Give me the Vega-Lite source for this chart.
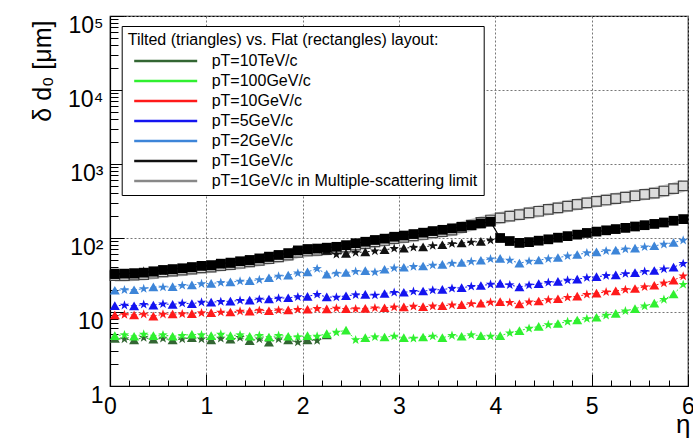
{
"$schema":"https://vega.github.io/schema/vega-lite/v6.json",
"width":578,"height":370,
"autosize":{"type":"none"},
"padding":{"left":110,"top":16,"right":5,"bottom":55},
"background":"white",
"config":{"font":"Liberation Sans","view":{"stroke":"black","strokeWidth":1.2}},
"datasets":{"d":[
{"e":0.05,"m":"a","t10":4.4,"g100":4.8,"g10":9.1,"g5":12.2,"g2":19.7,"g1":32,"f":33,"ms":31},
{"e":0.15,"m":"b","t10":4.3,"g100":4.9,"g10":9.2,"g5":12.3,"g2":19.9,"g1":32.5,"f":33,"ms":31},
{"e":0.25,"m":"a","t10":4.2,"g100":4.7,"g10":9.1,"g5":12.1,"g2":20.0,"g1":32.5,"f":33.5,"ms":31.5},
{"e":0.35,"m":"b","t10":4.5,"g100":5.0,"g10":9.3,"g5":12.6,"g2":20.6,"g1":35.5,"f":34,"ms":32},
{"e":0.45,"m":"a","t10":4.3,"g100":4.8,"g10":8.8,"g5":12.4,"g2":21.8,"g1":34.5,"f":35.5,"ms":33.4},
{"e":0.55,"m":"b","t10":4.4,"g100":4.9,"g10":9.3,"g5":12.8,"g2":21.6,"g1":36,"f":37,"ms":34.8},
{"e":0.65,"m":"a","t10":4.2,"g100":4.7,"g10":9.4,"g5":12.7,"g2":22.0,"g1":37,"f":38,"ms":35.7},
{"e":0.75,"m":"b","t10":4.3,"g100":4.8,"g10":9.4,"g5":13.1,"g2":22.8,"g1":38,"f":39,"ms":36.7},
{"e":0.85,"m":"a","t10":4.5,"g100":5.0,"g10":9.5,"g5":13.0,"g2":23.2,"g1":39.5,"f":40.5,"ms":38},
{"e":0.95,"m":"b","t10":4.3,"g100":4.9,"g10":9.7,"g5":13.5,"g2":24.0,"g1":41,"f":42,"ms":39.5},
{"e":1.05,"m":"a","t10":4.2,"g100":4.8,"g10":9.8,"g5":13.6,"g2":24.4,"g1":42,"f":43,"ms":40.4},
{"e":1.15,"m":"b","t10":4.4,"g100":5.0,"g10":9.9,"g5":13.8,"g2":24.9,"g1":44,"f":45,"ms":42.3},
{"e":1.25,"m":"a","t10":4.3,"g100":4.8,"g10":10.0,"g5":14.0,"g2":25.5,"g1":45.5,"f":46.5,"ms":43.7},
{"e":1.35,"m":"b","t10":4.5,"g100":4.9,"g10":10.2,"g5":14.3,"g2":26.0,"g1":47,"f":48.5,"ms":45.6},
{"e":1.45,"m":"a","t10":4.1,"g100":4.7,"g10":10.3,"g5":14.5,"g2":26.6,"g1":49,"f":50.5,"ms":47.5},
{"e":1.55,"m":"b","t10":4.3,"g100":4.8,"g10":10.5,"g5":14.8,"g2":27.2,"g1":51.5,"f":53,"ms":49.8},
{"e":1.65,"m":"a","t10":3.9,"g100":4.6,"g10":10.4,"g5":15.0,"g2":29.0,"g1":54.5,"f":56,"ms":52.6},
{"e":1.75,"m":"b","t10":4.3,"g100":4.8,"g10":10.6,"g5":15.3,"g2":30.3,"g1":57.5,"f":59,"ms":55.5},
{"e":1.85,"m":"a","t10":4.2,"g100":4.7,"g10":10.7,"g5":15.6,"g2":31.5,"g1":61,"f":62.5,"ms":58.8},
{"e":1.95,"m":"b","t10":3.9,"g100":4.6,"g10":10.8,"g5":16.0,"g2":33.5,"g1":66,"f":68,"ms":64},
{"e":2.05,"m":"a","t10":4.2,"g100":4.8,"g10":10.9,"g5":16.3,"g2":34.8,"g1":69,"f":71,"ms":66.7},
{"e":2.15,"m":"b","t10":4.1,"g100":4.7,"g10":11.1,"g5":17.2,"g2":38.5,"g1":70,"f":72,"ms":68},
{"e":2.25,"m":"a","t10":4.9,"g100":5.1,"g10":11.0,"g5":16.0,"g2":32.5,"g1":68,"f":74,"ms":70},
{"e":2.35,"m":"b","g100":5.3,"g10":11.2,"g5":15.8,"g2":33.2,"g1":60,"f":76,"ms":72},
{"e":2.45,"m":"a","g100":5.7,"g10":11.1,"g5":16.6,"g2":34.2,"g1":62,"f":80,"ms":75.5},
{"e":2.55,"m":"b","g100":4.2,"g10":11.0,"g5":17.0,"g2":35.2,"g1":63.5,"f":85,"ms":80},
{"e":2.65,"m":"a","g100":4.5,"g10":11.2,"g5":17.3,"g2":36.2,"g1":65,"f":89,"ms":84},
{"e":2.75,"m":"b","g100":4.6,"g10":11.3,"g5":16.8,"g2":34.5,"g1":66.5,"f":94,"ms":88.5},
{"e":2.85,"m":"a","g100":4.6,"g10":11.4,"g5":17.8,"g2":37.8,"g1":69.5,"f":98,"ms":92.5},
{"e":2.95,"m":"b","g100":4.7,"g10":11.6,"g5":18.3,"g2":39.2,"g1":72,"f":104,"ms":98},
{"e":3.05,"m":"a","g100":4.5,"g10":11.7,"g5":18.5,"g2":40.3,"g1":73,"f":108,"ms":102},
{"e":3.15,"m":"b","g100":4.4,"g10":11.9,"g5":18.9,"g2":41.0,"g1":74.5,"f":113,"ms":106.5},
{"e":3.25,"m":"a","g100":4.6,"g10":11.8,"g5":19.2,"g2":41.8,"g1":76,"f":118,"ms":111.5},
{"e":3.35,"m":"b","g100":4.7,"g10":12.0,"g5":19.7,"g2":42.8,"g1":78.5,"f":124,"ms":117},
{"e":3.45,"m":"a","g100":4.5,"g10":12.2,"g5":20.2,"g2":44.0,"g1":81,"f":129,"ms":122},
{"e":3.55,"m":"b","g100":4.8,"g10":12.4,"g5":20.8,"g2":45.3,"g1":83.5,"f":135,"ms":128},
{"e":3.65,"m":"a","g100":4.7,"g10":12.6,"g5":21.4,"g2":46.6,"g1":85.5,"f":142,"ms":138},
{"e":3.75,"m":"b","g100":4.9,"g10":12.9,"g5":22.1,"g2":48.0,"g1":87.5,"f":149,"ms":150},
{"e":3.85,"m":"a","g100":4.8,"g10":13.2,"g5":22.8,"g2":50.0,"g1":90,"f":157,"ms":163},
{"e":3.95,"m":"b","g100":4.7,"g10":13.5,"g5":23.6,"g2":52.0,"g1":93,"f":166,"ms":175},
{"e":4.05,"m":"a","g100":4.8,"g10":13.8,"g5":24.4,"g2":53.0,"g1":101,"f":100,"ms":187},
{"e":4.15,"m":"b","g100":5.2,"g10":13.4,"g5":23.2,"g2":50.0,"g1":90,"f":91,"ms":197},
{"e":4.25,"m":"a","g100":5.6,"g10":12.9,"g5":21.8,"g2":45.8,"g1":86,"f":86,"ms":207},
{"e":4.35,"m":"b","g100":6.0,"g10":13.6,"g5":23.0,"g2":48.5,"f":88,"ms":218},
{"e":4.45,"m":"a","g100":6.4,"g10":14.1,"g5":24.2,"g2":50.5,"f":92,"ms":230},
{"e":4.55,"m":"b","g100":6.7,"g10":14.6,"g5":25.0,"g2":52.3,"f":96,"ms":243},
{"e":4.65,"m":"a","g100":7.0,"g10":15.1,"g5":25.9,"g2":54.5,"f":101,"ms":256},
{"e":4.75,"m":"b","g100":7.4,"g10":15.7,"g5":26.8,"g2":57.0,"f":106,"ms":270},
{"e":4.85,"m":"a","g100":7.8,"g10":16.4,"g5":27.8,"g2":59.8,"f":111,"ms":284},
{"e":4.95,"m":"b","g100":8.1,"g10":17.2,"g5":29.0,"g2":62.8,"f":117,"ms":299},
{"e":5.05,"m":"a","g100":8.5,"g10":18.0,"g5":30.0,"g2":65.0,"f":122,"ms":313},
{"e":5.15,"m":"b","g100":9.0,"g10":18.6,"g5":30.9,"g2":66.8,"f":127,"ms":326},
{"e":5.25,"m":"a","g100":9.6,"g10":19.3,"g5":31.8,"g2":68.6,"f":132,"ms":340},
{"e":5.35,"m":"b","g100":10.3,"g10":20.0,"g5":32.8,"g2":70.5,"f":137,"ms":356},
{"e":5.45,"m":"a","g100":11.1,"g10":20.8,"g5":34.0,"g2":72.8,"f":143,"ms":372},
{"e":5.55,"m":"b","g100":12.0,"g10":21.8,"g5":35.2,"g2":75.5,"f":149,"ms":388},
{"e":5.65,"m":"a","g100":13.2,"g10":23.0,"g5":36.4,"g2":78.5,"f":155,"ms":405},
{"e":5.75,"m":"b","g100":14.7,"g10":24.5,"g5":38.0,"g2":82.0,"f":162,"ms":432},
{"e":5.85,"m":"a","g100":17.5,"g10":27.0,"g5":40.5,"g2":87.0,"f":171,"ms":465},
{"e":5.95,"m":"b","g100":23.5,"g10":30.5,"g5":45.0,"g2":93.0,"f":180,"ms":505}
]},
"data":{"name":"d"},
"resolve":{"axis":{"x":"independent","y":"independent"}},
"layer":[
{"mark":{"type":"line","color":"#c9c9c9","strokeWidth":12,"strokeCap":"butt","opacity":0.9},
 "encoding":{
  "x":{"field":"e","type":"quantitative","scale":{"domain":[0,6],"nice":false,"zero":false},
   "axis":{"values":[0,1,2,3,4,5,6],"format":"d","labelFontSize":23,"labelColor":"black","labelPadding":21,"tickSize":-12,"tickColor":"black","tickWidth":1,"domainColor":"black","domainWidth":1.2,"grid":true,"gridDash":[2,2],"gridColor":"#777","gridOpacity":1,"labelFlush":false,"title":"η","titleFontSize":26,"titleFontWeight":"normal","titleColor":"black","titleX":580,"titleY":46,"titleAlign":"right","titleBaseline":"alphabetic"}},
  "y":{"field":"ms","type":"quantitative","scale":{"type":"log","domain":[1,100000],"nice":false},
   "axis":{"values":[1,10,100,1000,10000,100000],"labelExpr":"datum.value==1?'1':datum.value==10?'10':datum.value==100?'10²':datum.value==1000?'10³':datum.value==10000?'10⁴':'10⁵'","labelFontSize":23,"labelColor":"black","labelPadding":21,"labelBaseline":"middle","labelOffset":9,"tickSize":-14,"tickColor":"black","domainColor":"black","domainWidth":1.2,"grid":true,"gridDash":[2,2],"gridColor":"#777","gridOpacity":1,"labelFlush":false,"title":"δ d₀ [μm]","titleFontSize":25,"titleFontWeight":"normal","titleColor":"black","titleX":-68,"titleY":4,"titleAlign":"right","titleBaseline":"middle","titleAngle":-90}}
 }},
{"mark":{"type":"point","opacity":0},
 "encoding":{
  "x":{"field":"e","type":"quantitative","scale":{"domain":[0,6],"nice":false,"zero":false},
   "axis":{"orient":"bottom","values":[0.2,0.4,0.6,0.8,1.2,1.4,1.6,1.8,2.2,2.4,2.6,2.8,3.2,3.4,3.6,3.8,4.2,4.4,4.6,4.8,5.2,5.4,5.6,5.8],"labels":false,"grid":false,"domain":false,"tickSize":-6,"tickColor":"black","title":null}},
  "y":{"field":"ms","type":"quantitative","scale":{"type":"log","domain":[1,100000],"nice":false},
   "axis":{"orient":"left","values":[2,3,4,5,6,7,8,9,20,30,40,50,60,70,80,90,200,300,400,500,600,700,800,900,2000,3000,4000,5000,6000,7000,8000,9000,20000,30000,40000,50000,60000,70000,80000,90000],"labels":false,"grid":false,"domain":false,"tickSize":-8,"tickColor":"black","title":null}}
 }},
{"mark":{"type":"point","shape":"square","filled":true,"fill":"#dcdcdc","stroke":"#444","strokeWidth":1.2,"size":90,"opacity":1},
 "encoding":{
  "x":{"field":"e","type":"quantitative","scale":{"domain":[0,6],"nice":false,"zero":false},"axis":null},
  "y":{"field":"ms","type":"quantitative","scale":{"type":"log","domain":[1,100000],"nice":false},"axis":null}
 }},
{"transform":[{"fold":["t10","g100","g10","g5","g2","g1"],"as":["s","v"]},{"filter":"isValid(datum.v)"}],
 "layer":[
  {"mark":{"type":"line","strokeWidth":1,"strokeDash":[2,2]},
   "encoding":{
    "x":{"field":"e","type":"quantitative","scale":{"domain":[0,6],"nice":false,"zero":false},"axis":null},
    "y":{"field":"v","type":"quantitative","scale":{"type":"log","domain":[1,100000],"nice":false},"axis":null},
    "color":{"field":"s","type":"nominal","scale":{"domain":["t10","g100","g10","g5","g2","g1","ms"],"range":["#336633","#30f030","#ff1a1a","#1414f0","#3d85d8","#111111","#888888"]},
     "legend":{"orient":"none","legendX":11.7,"legendY":10,"title":"Tilted (triangles) vs. Flat (rectangles) layout:","titleFontSize":16,"titleFontWeight":"normal","titleColor":"black","titlePadding":5,"titleLimit":600,"labelLimit":600,"labelFontSize":16,"labelColor":"black","labelExpr":"datum.label=='t10'?'pT=10TeV/c':datum.label=='g100'?'pT=100GeV/c':datum.label=='g10'?'pT=10GeV/c':datum.label=='g5'?'pT=5GeV/c':datum.label=='g2'?'pT=2GeV/c':datum.label=='g1'?'pT=1GeV/c':'pT=1GeV/c in Multiple-scattering limit'","symbolType":"M-6.3,0H6.3","symbolSize":100,"symbolStrokeWidth":2.5,"symbolDash":[1,0],"strokeColor":"black","fillColor":"white","padding":6,"rowPadding":4,"symbolOffset":30,"labelOffset":38}}
   }},
  {"mark":{"type":"point","filled":true,"size":100,"opacity":1},
   "encoding":{
    "x":{"field":"e","type":"quantitative","scale":{"domain":[0,6],"nice":false,"zero":false},"axis":null},
    "y":{"field":"v","type":"quantitative","scale":{"type":"log","domain":[1,100000],"nice":false},"axis":null},
    "fill":{"field":"s","type":"nominal","scale":{"domain":["t10","g100","g10","g5","g2","g1","ms"],"range":["#336633","#30f030","#ff1a1a","#1414f0","#3d85d8","#111111","#888888"]},"legend":null},
    "shape":{"field":"m","type":"nominal","scale":{"domain":["a","b"],"range":["triangle-up","M0,-1L0.235,-0.324L0.951,-0.309L0.38,0.124L0.588,0.809L0,0.4L-0.588,0.809L-0.38,0.124L-0.951,-0.309L-0.235,-0.324Z"]},"legend":null}
   }}
 ]},
{"mark":{"type":"line","color":"black","strokeWidth":1.2},
 "encoding":{
  "x":{"field":"e","type":"quantitative","scale":{"domain":[0,6],"nice":false,"zero":false},"axis":null},
  "y":{"field":"f","type":"quantitative","scale":{"type":"log","domain":[1,100000],"nice":false},"axis":null}
 }},
{"mark":{"type":"point","shape":"square","filled":true,"color":"black","size":95,"opacity":1},
 "encoding":{
  "x":{"field":"e","type":"quantitative","scale":{"domain":[0,6],"nice":false,"zero":false},"axis":null},
  "y":{"field":"f","type":"quantitative","scale":{"type":"log","domain":[1,100000],"nice":false},"axis":null}
 }}
]
}
